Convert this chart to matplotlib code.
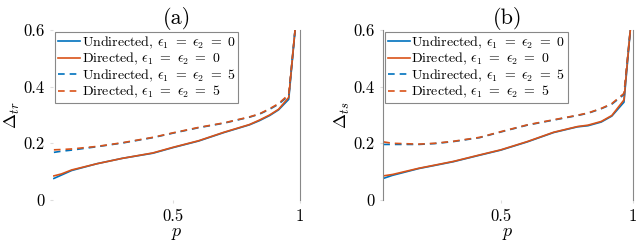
import numpy as np
import matplotlib
matplotlib.use("Agg")
import matplotlib.pyplot as plt

plt.rcParams["font.family"] = "serif"
plt.rcParams["font.serif"] = ["cmr10", "DejaVu Serif"]
plt.rcParams["mathtext.fontset"] = "cm"
plt.rcParams["axes.formatter.use_mathtext"] = True

# Datos
# (a) Delta_tr
p_a = [0.03, 0.06, 0.10, 0.20, 0.30, 0.42, 0.50, 0.60, 0.70, 0.80, 0.84, 0.88, 0.915, 0.955, 0.98]
und0_a = [0.076, 0.088, 0.104, 0.128, 0.147, 0.165, 0.185, 0.208, 0.238, 0.265, 0.280, 0.298, 0.318, 0.355, 0.60]
dir0_a = [0.085, 0.092, 0.106, 0.128, 0.147, 0.166, 0.186, 0.209, 0.239, 0.266, 0.282, 0.300, 0.320, 0.362, 0.60]
und5_a = [0.168, 0.172, 0.176, 0.188, 0.201, 0.220, 0.236, 0.255, 0.271, 0.292, 0.303, 0.320, 0.338, 0.368, 0.60]
dir5_a = [0.177, 0.178, 0.180, 0.189, 0.202, 0.221, 0.237, 0.256, 0.272, 0.293, 0.304, 0.322, 0.340, 0.372, 0.60]

# (b) Delta_ts
p_b = [0.055, 0.09, 0.19, 0.25, 0.32, 0.42, 0.50, 0.60, 0.70, 0.79, 0.83, 0.88, 0.92, 0.966, 0.99]
und0_b = [0.076, 0.087, 0.111, 0.122, 0.135, 0.158, 0.176, 0.205, 0.238, 0.258, 0.262, 0.275, 0.296, 0.345, 0.60]
dir0_b = [0.085, 0.090, 0.112, 0.123, 0.136, 0.159, 0.177, 0.206, 0.239, 0.259, 0.264, 0.277, 0.298, 0.353, 0.60]
und5_b = [0.196, 0.196, 0.196, 0.199, 0.206, 0.220, 0.240, 0.264, 0.282, 0.298, 0.306, 0.322, 0.338, 0.372, 0.60]
dir5_b = [0.205, 0.200, 0.197, 0.200, 0.207, 0.221, 0.241, 0.265, 0.283, 0.299, 0.307, 0.323, 0.340, 0.376, 0.60]

labels = [r"Undirected, $\epsilon_1\ =\ \epsilon_2\ =\ 0$",
          r"Directed, $\epsilon_1\ =\ \epsilon_2\ =\ 0$",
          r"Undirected, $\epsilon_1\ =\ \epsilon_2\ =\ 5$",
          r"Directed, $\epsilon_1\ =\ \epsilon_2\ =\ 5$"]
yticks = [0, 0.2, 0.4, 0.6]
yticklabels = ["0", "0.2", "0.4", "0.6"]
xticks = [0.5, 1]
xticklabels = ["0.5", "1"]

blue = (0, 0.447, 0.741)
orange = (0.85, 0.325, 0.098)

fig = plt.figure(figsize=(6.4, 2.43), dpi=100)
ax1 = fig.add_axes([0.083, 0.177, 0.386, 0.70])
ax2 = fig.add_axes([0.598, 0.177, 0.391, 0.70])

panels = [
    (ax1, p_a, [und0_a, dir0_a, und5_a, dir5_a], "(a)", r"$\Delta_{tr}$", 0.027),
    (ax2, p_b, [und0_b, dir0_b, und5_b, dir5_b], "(b)", r"$\Delta_{ts}$", 0.053),
]

for ax, p, series, title, ylab, xmin in panels:
    styles = [(blue, "-"), (orange, "-"), (blue, "--"), (orange, "--")]
    for ys, (c, ls), lab in zip(series, styles, labels):
        ax.plot(p, ys, color=c, linestyle=ls, lw=1.2, label=lab,
                dashes=(4, 3) if ls == "--" else (None, None))
    ax.set_xlim(xmin, 1)
    ax.set_ylim(0, 0.6)
    ax.set_yticks(yticks)
    ax.set_yticklabels(yticklabels, fontsize=12)
    ax.set_xticks(xticks)
    ax.set_xticklabels(xticklabels, fontsize=12)
    ax.tick_params(length=2, color="#dddddd", pad=4)
    ax.set_title(title, fontsize=16, pad=3)
    ax.set_ylabel(ylab, fontsize=13, labelpad=1)
    ax.set_xlabel(r"$p$", fontsize=13, labelpad=2)
    for s in ["top", "bottom"]:
        ax.spines[s].set_visible(False)
    ax.spines["right"].set_color("#888888")
    ax.spines["left"].set_color("#888888")
    leg = ax.legend(loc="upper left", fontsize=10, handlelength=1.6,
                    handletextpad=0.1, borderpad=0.2, labelspacing=0.02,
                    borderaxespad=0.15, fancybox=False, framealpha=1)
    leg.get_frame().set_edgecolor("#888888")
    leg.get_frame().set_linewidth(0.8)

ax1.spines["left"].set_visible(False)

plt.savefig("out.png", dpi=100)
